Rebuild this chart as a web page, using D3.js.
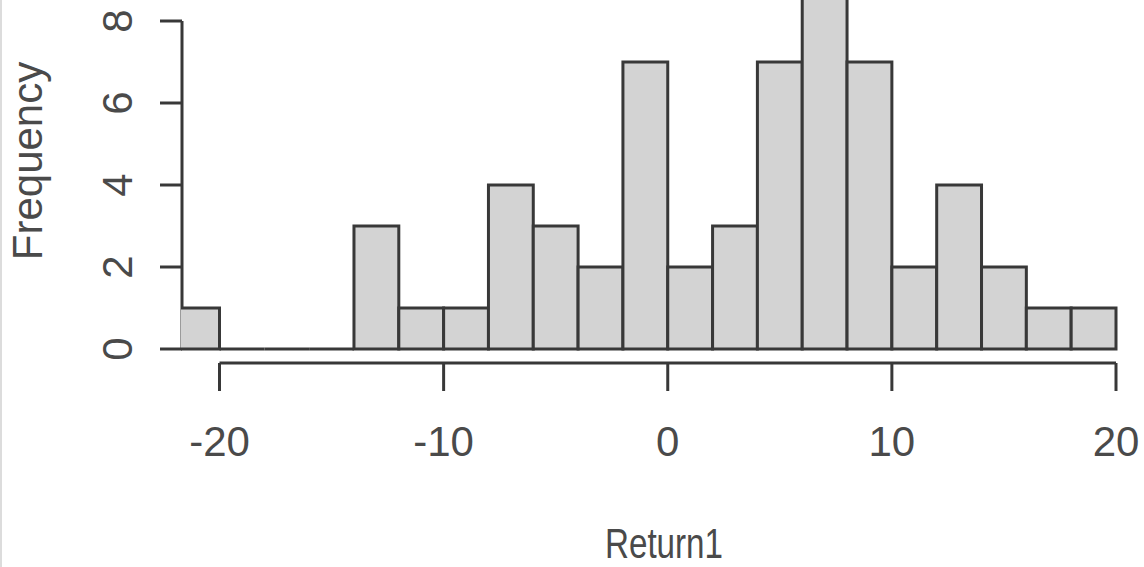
<!DOCTYPE html>
<html>
<head>
<meta charset="utf-8">
<script src="https://cdn.jsdelivr.net/npm/d3@7/dist/d3.min.js"></script>
<style>
  html, body { margin: 0; padding: 0; background: #ffffff; }
  svg { display: block; }
  text { font-family: "Liberation Sans", Arial, sans-serif; fill: #4a4a4a; }
</style>
</head>
<body>
<svg id="chart" width="1144" height="567"></svg>
<script>
// Histogram of Return1: bin edges (width 2) and counts per bin
const binStarts = [-22, -20, -18, -16, -14, -12, -10, -8, -6, -4, -2, 0, 2, 4, 6, 8, 10, 12, 14, 16, 18];
const counts    = [  1,   0,   0,   0,   3,   1,   1,  4,  3,  2,  7, 2, 3, 7, 9, 7, 2,  4,  2,  1,  1];
const binWidth = 2;
const xTicks = [-20, -10, 0, 10, 20];
const yTicks = [0, 2, 4, 6, 8];
const xTitle = "Return1";
const yTitle = "Frequency";

const W = 1144, H = 567;
const svg = d3.select("#chart");

// layout
const plotLeft = 182;      // y-axis position
const x = d3.scaleLinear().domain([-20, 20]).range([219.5, 1116]);
const y = d3.scaleLinear().domain([0, 8]).range([349, 21]);
const xAxisY = 363;
const lineColor = "#383838";
const fillColor = "#d3d3d3";

// thin frame line on the far left
svg.append("line")
  .attr("x1", 1).attr("x2", 1).attr("y1", 0).attr("y2", H)
  .attr("stroke", "#dcdcdc").attr("stroke-width", 2);

// y axis
const yAxis = svg.append("g");
yAxis.append("line")
  .attr("x1", plotLeft).attr("x2", plotLeft)
  .attr("y1", y(d3.max(yTicks))).attr("y2", y(0))
  .attr("stroke", lineColor).attr("stroke-width", 3);
yAxis.selectAll("line.tick").data(yTicks).join("line")
  .attr("class", "tick")
  .attr("x1", plotLeft - 22).attr("x2", plotLeft)
  .attr("y1", d => y(d)).attr("y2", d => y(d))
  .attr("stroke", lineColor).attr("stroke-width", 3);
yAxis.selectAll("text").data(yTicks).join("text")
  .attr("transform", d => `translate(${plotLeft - 50},${y(d)}) rotate(-90)`)
  .attr("text-anchor", "middle")
  .attr("font-size", 42)
  .text(d => d);

// y title
svg.append("text")
  .attr("transform", `translate(42,${161}) rotate(-90)`)
  .attr("text-anchor", "middle")
  .attr("font-size", 42)
  .text(yTitle);

// bars (clipped at the y axis)
svg.append("clipPath").attr("id", "plotClip")
  .append("rect").attr("x", plotLeft - 1).attr("y", 0).attr("width", W).attr("height", H);

const bars = svg.append("g").attr("clip-path", "url(#plotClip)");
bars.selectAll("path").data(binStarts.map((s, i) => ({ x0: s, x1: s + binWidth, n: counts[i] })))
  .join("path")
  .attr("d", d => {
    const p = d3.path();
    p.moveTo(x(d.x0), y(0));
    p.lineTo(x(d.x0), y(d.n));
    p.lineTo(x(d.x1), y(d.n));
    p.lineTo(x(d.x1), y(0));
    p.closePath();
    return p.toString();
  })
  .attr("fill", fillColor)
  .attr("stroke", lineColor)
  .attr("stroke-width", 3);

// x axis
const xAxis = svg.append("g");
xAxis.append("line")
  .attr("x1", x(d3.min(xTicks))).attr("x2", x(d3.max(xTicks)))
  .attr("y1", xAxisY).attr("y2", xAxisY)
  .attr("stroke", lineColor).attr("stroke-width", 3);
xAxis.selectAll("line.tick").data(xTicks).join("line")
  .attr("class", "tick")
  .attr("x1", d => x(d)).attr("x2", d => x(d))
  .attr("y1", xAxisY).attr("y2", xAxisY + 28)
  .attr("stroke", lineColor).attr("stroke-width", 3);
xAxis.selectAll("text").data(xTicks).join("text")
  .attr("x", d => x(d))
  .attr("y", 456)
  .attr("text-anchor", "middle")
  .attr("font-size", 42)
  .text(d => d);

// x title
svg.append("text")
  .attr("x", 664).attr("y", 558)
  .attr("text-anchor", "middle")
  .attr("font-size", 42)
  .attr("textLength", 118)
  .attr("lengthAdjust", "spacingAndGlyphs")
  .text(xTitle);
</script>
</body>
</html>
